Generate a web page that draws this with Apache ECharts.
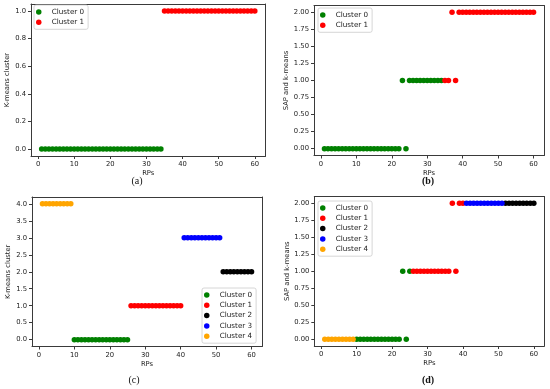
<!DOCTYPE html>
<html>
<head>
<meta charset="utf-8">
<script src="https://cdn.jsdelivr.net/npm/echarts@6/dist/echarts.min.js"></script>
<style>
html,body{margin:0;padding:0;background:#fff;}
#chart{width:550px;height:389px;}
</style>
</head>
<body>
<div id="chart"></div>
<script>
// ---- data ----
const rpIds = [1,2,3,4,5,6,7,8,9,10,11,12,13,14,15,16,17,18,19,20,21,22,23,24,25,26,27,28,29,30,
               31,32,33,34,35,36,37,38,39,40,41,42,43,44,45,46,47,48,49,50,51,52,53,54,55,56,57,58,59,60];
// K-means with 2 clusters (label per RP)
const kmeans2 = [0,0,0,0,0,0,0,0,0,0,0,0,0,0,0,0,0,0,0,0,0,0,0,0,0,0,0,0,0,0,
                 0,0,0,0,1,1,1,1,1,1,1,1,1,1,1,1,1,1,1,1,1,1,1,1,1,1,1,1,1,1];
// SAP and k-means value per RP
const sapKmeans = [0,0,0,0,0,0,0,0,0,0,0,0,0,0,0,0,0,0,0,0,0,0,1,0,1,1,1,1,1,1,
                   1,1,1,1,1,1,2,1,2,2,2,2,2,2,2,2,2,2,2,2,2,2,2,2,2,2,2,2,2,2];
// K-means with 5 clusters (label per RP)
const kmeans5 = [4,4,4,4,4,4,4,4,4,0,0,0,0,0,0,0,0,0,0,0,0,0,0,0,0,1,1,1,1,1,
                 1,1,1,1,1,1,1,1,1,1,3,3,3,3,3,3,3,3,3,3,3,2,2,2,2,2,2,2,2,2];
const clusterNames2 = ['Cluster 0','Cluster 1'];
const clusterNames5 = ['Cluster 0','Cluster 1','Cluster 2','Cluster 3','Cluster 4'];
const clusterColors = ['#008000','#ff0000','#000000','#0000ff','#ffa500'];
const xTicks = [0,10,20,30,40,50,60];
const yTicksA = [0,0.2,0.4,0.6,0.8,1.0];
const yTicksB = [0,0.25,0.5,0.75,1.0,1.25,1.5,1.75,2.0];
const yTicksC = [0,0.5,1.0,1.5,2.0,2.5,3.0,3.5,4.0];
const yTicksD = [0,0.25,0.5,0.75,1.0,1.25,1.5,1.75,2.0];

// ---- layout ----
const FONT = 'DejaVu Sans';
const TXT = '#222';
const FRAME = '#3a3a3a';
const TICKFS = 6.8;
const panels = [
  {grid:{left:31, top:4, width:234.5, height:152}, yMin:-0.05, yMax:1.05, yTicks:yTicksA, dec:1,
   yName:'K-means cluster', labels:kmeans2, yVals:kmeans2, names:clusterNames2,
   legend:{left:34, top:5}, cap:'(a)', capX:137, capY:181, bold:false},
  {grid:{left:314, top:5.5, width:230, height:150}, yMin:-0.1, yMax:2.1, yTicks:yTicksB, dec:2,
   yName:'SAP and k-means', labels:kmeans2, yVals:sapKmeans, names:clusterNames2,
   legend:{left:318, top:8}, cap:'(b)', capX:428, capY:181, bold:true},
  {grid:{left:32, top:197, width:230, height:149.5}, yMin:-0.2, yMax:4.2, yTicks:yTicksC, dec:1,
   yName:'K-means cluster', labels:kmeans5, yVals:kmeans5, names:clusterNames5,
   legend:{left:202, top:288}, cap:'(c)', capX:134, capY:380, bold:false},
  {grid:{left:314.3, top:196.5, width:230, height:149.5}, yMin:-0.1, yMax:2.1, yTicks:yTicksD, dec:2,
   yName:'SAP and k-means', labels:kmeans5, yVals:sapKmeans, names:clusterNames5,
   legend:{left:318, top:201}, cap:'(d)', capX:428, capY:380, bold:true}
];

const grid = [], xAxis = [], yAxis = [], series = [], legend = [], graphic = [];
panels.forEach((p, pi) => {
  grid.push(Object.assign({show:false}, p.grid));
  const lineStyle = {color:FRAME, width:1};
  // bottom / left axes with labels
  xAxis.push({
    type:'value', gridIndex:pi, min:-1.95, max:62.95, position:'bottom',
    name:'RPs', nameLocation:'middle', nameGap:14,
    nameTextStyle:{fontFamily:FONT, fontSize:TICKFS, color:TXT},
    axisLine:{show:true, onZero:false, lineStyle}, splitLine:{show:false},
    axisTick:{show:true, length:3, lineStyle:{color:FRAME}, customValues:xTicks},
    axisLabel:{fontFamily:FONT, fontSize:TICKFS, color:TXT, margin:5, customValues:xTicks,
               formatter:v => String(Math.round(v))}
  });
  yAxis.push({
    type:'value', gridIndex:pi, min:p.yMin, max:p.yMax, position:'left',
    name:p.yName, nameLocation:'middle', nameRotate:90, nameGap:p.dec===2?23.5:20,
    nameTextStyle:{fontFamily:FONT, fontSize:TICKFS, color:TXT},
    axisLine:{show:true, onZero:false, lineStyle}, splitLine:{show:false},
    axisTick:{show:true, length:3, lineStyle:{color:FRAME}, customValues:p.yTicks},
    axisLabel:{fontFamily:FONT, fontSize:TICKFS, color:TXT, margin:5, customValues:p.yTicks,
               formatter:v => v.toFixed(p.dec)}
  });
  p.xIdx = xAxis.length - 1; p.yIdx = yAxis.length - 1;
  // top / right frame lines
  xAxis.push({
    type:'value', gridIndex:pi, min:-1.95, max:62.95, position:'top',
    axisLine:{show:true, onZero:false, lineStyle}, axisTick:{show:false},
    axisLabel:{show:false}, splitLine:{show:false}
  });
  yAxis.push({
    type:'value', gridIndex:pi, min:p.yMin, max:p.yMax, position:'right',
    axisLine:{show:true, onZero:false, lineStyle}, axisTick:{show:false},
    axisLabel:{show:false}, splitLine:{show:false}
  });
  p.names.forEach((nm, k) => {
    const data = [];
    rpIds.forEach((rp, i) => { if (p.labels[i] === k) data.push([rp, p.yVals[i]]); });
    series.push({
      type:'scatter', name:nm, xAxisIndex:p.xIdx, yAxisIndex:p.yIdx,
      symbol:'circle', symbolSize:5.5, data:data,
      itemStyle:{color:clusterColors[k], opacity:1},
      emphasis:{disabled:true}, silent:true
    });
  });
  legend.push({
    left:p.legend.left, top:p.legend.top, orient:'vertical',
    data:p.names.map(n => ({name:n, icon:'circle'})),
    itemWidth:16, itemHeight:5.5, itemGap:2.3,
    padding:[3,4,3,2],
    textStyle:{fontFamily:FONT, fontSize:7.2, color:TXT, lineHeight:8},
    borderColor:'#ccc', borderWidth:0.8, borderRadius:2,
    backgroundColor:'rgba(255,255,255,0.85)', selectedMode:false
  });
  graphic.push({
    type:'text', x:p.capX, y:p.capY,
    style:{text:p.cap, font:(p.bold?'bold ':'') + '10px "Liberation Serif"', fill:'#111',
           textAlign:'center', textVerticalAlign:'middle'}
  });
});

const chart = echarts.init(document.getElementById('chart'), null, {renderer:'canvas'});
chart.setOption({
  animation:false,
  grid, xAxis, yAxis, series, legend, graphic
});
</script>
</body>
</html>
